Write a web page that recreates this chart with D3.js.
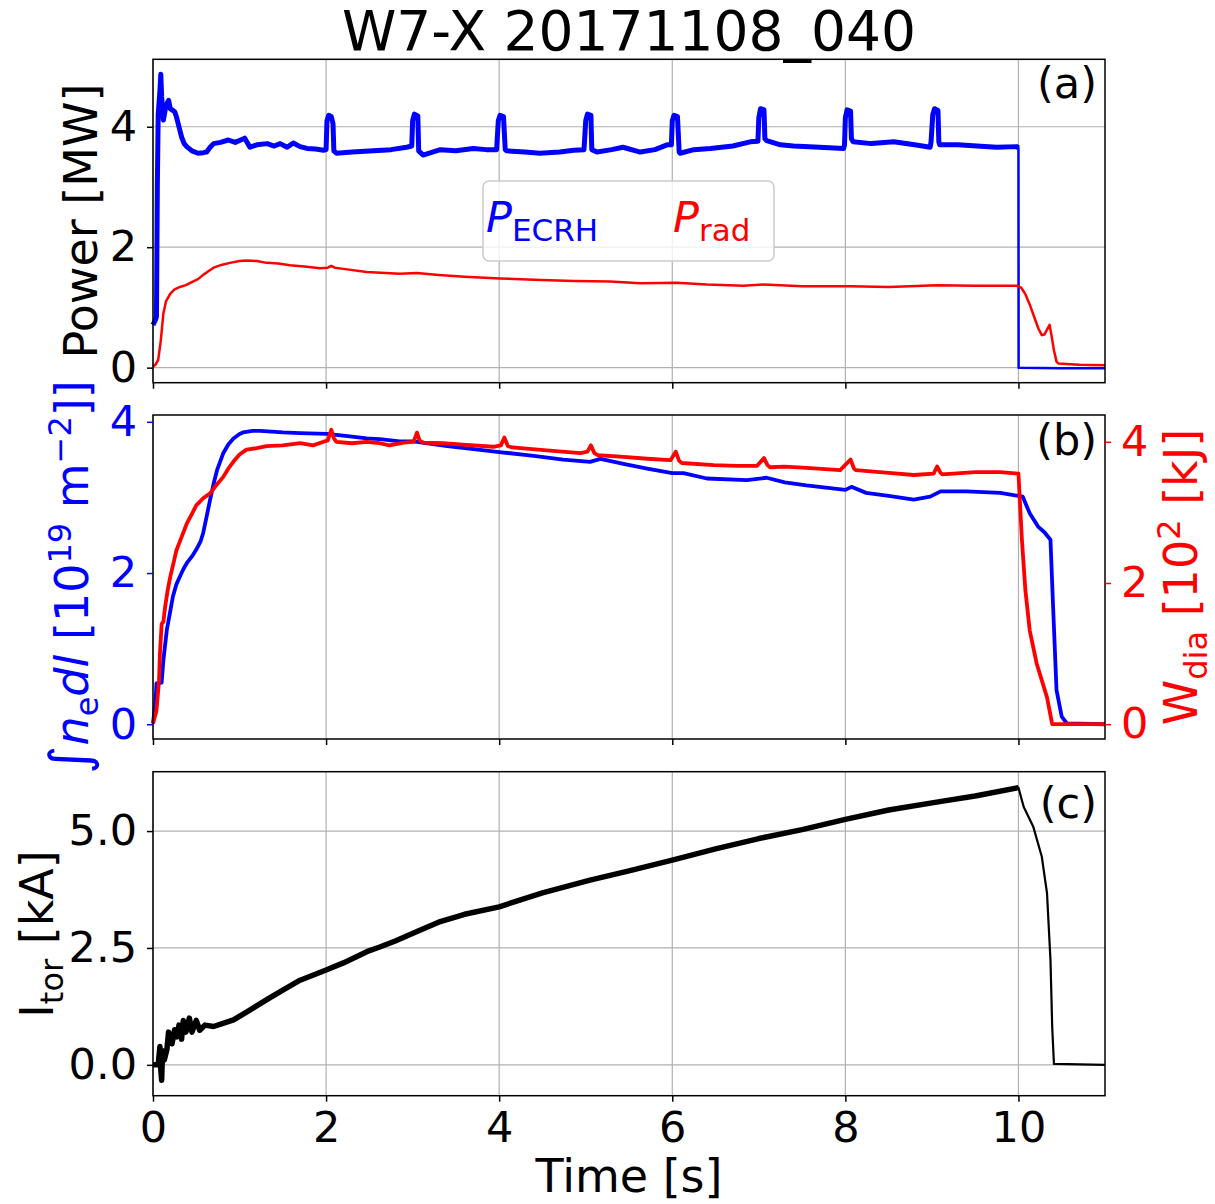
<!DOCTYPE html>
<html>
<head>
<meta charset="utf-8">
<script src="https://cdn.jsdelivr.net/npm/d3@7"></script>
<style>
  body { margin: 0; background: #fff; }
  text { font-family: "DejaVu Sans", sans-serif; }
</style>
</head>
<body>
<script>
// ---- data (time in s) ----
var ecrhT = [0.00, 0.03, 0.04, 0.05, 0.06, 0.08, 0.09, 0.10, 0.12, 0.15, 0.18, 0.20, 0.22, 0.25, 0.27, 0.30, 0.33, 0.36, 0.39, 0.45, 0.52, 0.58, 0.62, 0.66, 0.70, 0.78, 0.87, 0.95, 1.06, 1.12, 1.20, 1.32, 1.40, 1.47, 1.55, 1.62, 1.70, 1.78, 1.88, 1.97,
  2.00, 2.01, 2.03, 2.06, 2.08, 2.09, 2.12, 2.30, 2.55, 2.75, 2.93, 2.99,
  3.00, 3.02, 3.06, 3.07, 3.12, 3.32, 3.50, 3.70, 3.85, 3.97,
  3.99, 4.01, 4.05, 4.07, 4.09, 4.30, 4.47, 4.70, 4.86, 4.98,
  5.00, 5.02, 5.06, 5.07, 5.13, 5.30, 5.43, 5.63, 5.80, 5.94, 5.99,
  6.00, 6.02, 6.06, 6.08, 6.09, 6.25, 6.44, 6.70, 6.90, 6.99,
  7.00, 7.02, 7.06, 7.07, 7.09, 7.25, 7.40, 7.70, 7.98, 7.99,
  8.00, 8.02, 8.06, 8.07, 8.09, 8.30, 8.56, 8.80, 8.98, 8.99,
  9.01, 9.03, 9.07, 9.08, 9.09, 9.30, 9.52, 9.75, 9.98, 10.00,
  10.002, 10.5, 11.0];
var ecrhP = [0.71, 0.80, 0.85, 3.00, 4.20, 4.60, 4.87, 4.50, 4.11, 4.35, 4.44, 4.30, 4.28, 4.25, 4.17, 4.00, 3.83, 3.72, 3.67, 3.60, 3.56, 3.57, 3.58, 3.66, 3.72, 3.74, 3.78, 3.74, 3.81, 3.66, 3.70, 3.72, 3.68, 3.72, 3.66, 3.73, 3.67, 3.64, 3.63, 3.61,
  3.62, 4.10, 4.19, 4.17, 4.05, 3.60, 3.56, 3.58, 3.60, 3.62, 3.66, 3.68,
  4.10, 4.21, 4.18, 3.60, 3.53, 3.62, 3.60, 3.64, 3.62, 3.62,
  4.10, 4.19, 4.17, 3.62, 3.60, 3.58, 3.56, 3.58, 3.61, 3.62,
  4.10, 4.21, 4.19, 3.62, 3.58, 3.62, 3.66, 3.58, 3.62, 3.70, 3.70,
  4.10, 4.19, 4.17, 3.58, 3.56, 3.62, 3.64, 3.68, 3.75, 3.76,
  4.15, 4.30, 4.28, 3.80, 3.77, 3.70, 3.68, 3.66, 3.64, 3.70,
  4.15, 4.28, 4.26, 3.80, 3.75, 3.72, 3.75, 3.70, 3.66, 3.75,
  4.20, 4.30, 4.27, 3.75, 3.70, 3.70, 3.68, 3.66, 3.67, 3.65,
  0.00, -0.01, -0.01];

var pradT = [0.00, 0.03, 0.06, 0.09, 0.12, 0.15, 0.20, 0.25, 0.31, 0.38, 0.46, 0.52, 0.58, 0.64, 0.70, 0.80, 0.89, 1.00, 1.08, 1.20, 1.31, 1.45, 1.58, 1.75, 1.93, 2.02, 2.06, 2.10, 2.20, 2.47, 2.85, 3.05, 3.30, 3.60, 4.01, 4.40, 4.86, 5.28, 5.63, 6.05, 6.40, 6.82, 7.05, 7.50, 8.06, 8.50, 9.06, 9.50, 9.98,
  10.03, 10.08, 10.13, 10.18, 10.23, 10.27, 10.30, 10.33, 10.36, 10.38, 10.41, 10.44, 10.46, 10.70, 11.00];
var pradP = [0.02, 0.05, 0.13, 0.45, 0.90, 1.10, 1.23, 1.30, 1.34, 1.37, 1.43, 1.47, 1.54, 1.60, 1.66, 1.71, 1.74, 1.77, 1.78, 1.77, 1.74, 1.73, 1.70, 1.68, 1.65, 1.66, 1.69, 1.66, 1.64, 1.59, 1.56, 1.57, 1.54, 1.51, 1.48, 1.46, 1.44, 1.43, 1.40, 1.41, 1.38, 1.36, 1.38, 1.35, 1.35, 1.34, 1.37, 1.36, 1.36,
  1.33, 1.22, 1.05, 0.85, 0.65, 0.54, 0.55, 0.63, 0.71, 0.55, 0.29, 0.10, 0.07, 0.05, 0.04];

var neT = [0.00, 0.03, 0.04, 0.10, 0.12, 0.16, 0.20, 0.23, 0.27, 0.31, 0.35, 0.39, 0.45, 0.50, 0.55, 0.58, 0.62, 0.66, 0.70, 0.74, 0.81, 0.87, 0.93, 1.00, 1.04, 1.15, 1.24, 1.50, 1.70, 2.01, 2.25, 2.47, 2.62, 2.85, 3.01, 3.40, 3.78, 4.00, 4.40, 4.74, 5.05, 5.17, 5.45, 5.71, 6.00, 6.13, 6.40, 6.86, 7.09, 7.30, 7.55, 8.00, 8.07, 8.24, 8.50, 8.79, 8.98, 9.10, 9.40, 9.79, 10.00,
  10.05, 10.13, 10.23, 10.30, 10.37, 10.40, 10.44, 10.50, 10.56, 11.00];
var neV = [0.01, 0.30, 0.54, 0.55, 0.85, 1.25, 1.50, 1.69, 1.85, 1.95, 2.05, 2.13, 2.22, 2.31, 2.42, 2.53, 2.75, 2.97, 3.18, 3.36, 3.58, 3.70, 3.78, 3.84, 3.86, 3.88, 3.88, 3.86, 3.85, 3.84, 3.81, 3.78, 3.77, 3.74, 3.74, 3.68, 3.63, 3.60, 3.55, 3.50, 3.47, 3.51, 3.44, 3.38, 3.32, 3.32, 3.25, 3.23, 3.26, 3.20, 3.16, 3.10, 3.14, 3.06, 3.02, 2.97, 3.01, 3.08, 3.08, 3.06, 3.02,
  3.01, 2.79, 2.61, 2.54, 2.44, 1.56, 0.45, 0.10, 0.01, 0.00];

var wdiaT = [0.00, 0.04, 0.07, 0.08, 0.10, 0.12, 0.14, 0.17, 0.20, 0.24, 0.27, 0.33, 0.39, 0.45, 0.50, 0.58, 0.66, 0.74, 0.81, 0.87, 0.93, 1.00, 1.08, 1.20, 1.31, 1.50, 1.70, 1.85, 1.97,
  2.02, 2.06, 2.09, 2.12, 2.30, 2.47, 2.62, 2.73, 2.90, 3.01, 3.05, 3.08, 3.12, 3.35, 3.58, 3.93, 4.02, 4.06, 4.10, 4.15, 4.55, 4.94, 5.02, 5.06, 5.10, 5.14, 5.40, 5.71, 5.98, 6.04, 6.08, 6.11, 6.48, 6.75, 6.98, 7.06, 7.10, 7.13, 7.30, 7.55, 7.94, 8.06, 8.10, 8.12, 8.50, 8.79, 9.02, 9.06, 9.10, 9.12, 9.50, 9.79, 10.00,
  10.04, 10.08, 10.13, 10.21, 10.27, 10.33, 10.39, 11.00];
var wdiaV = [0.01, 0.19, 0.62, 1.00, 1.42, 1.45, 1.66, 1.90, 2.09, 2.30, 2.46, 2.65, 2.84, 2.98, 3.10, 3.20, 3.27, 3.40, 3.50, 3.62, 3.72, 3.82, 3.89, 3.91, 3.94, 3.95, 3.98, 3.95, 4.00,
  4.02, 4.17, 4.05, 4.00, 3.98, 4.00, 3.98, 3.95, 3.99, 4.00, 4.13, 4.02, 3.99, 3.98, 3.96, 3.93, 3.95, 4.06, 3.94, 3.92, 3.88, 3.84, 3.86, 3.95, 3.84, 3.81, 3.79, 3.76, 3.74, 3.86, 3.73, 3.70, 3.67, 3.66, 3.66, 3.77, 3.67, 3.64, 3.65, 3.63, 3.60, 3.75, 3.62, 3.60, 3.56, 3.53, 3.55, 3.65, 3.56, 3.54, 3.57, 3.57, 3.55,
  2.61, 1.90, 1.33, 0.86, 0.62, 0.38, 0.00, 0.00];

var itorT = [0.00, 0.06, 0.08, 0.09, 0.10, 0.11, 0.13, 0.16, 0.18, 0.20, 0.22, 0.25, 0.28, 0.30, 0.33, 0.35, 0.38, 0.42, 0.45, 0.50, 0.54, 0.60, 0.70, 0.80, 0.93, 1.10, 1.31, 1.50, 1.70, 2.00, 2.20, 2.47, 2.62, 2.80, 3.05, 3.30, 3.60, 4.00, 4.50, 5.05, 5.50, 6.00, 6.50, 7.00, 7.50, 8.00, 8.50, 9.09, 9.50, 10.00,
  10.06, 10.17, 10.27, 10.33, 10.37, 10.39, 10.41, 11.00];
var itorV = [0.00, 0.00, 0.39, -0.10, -0.33, 0.30, 0.10, 0.32, 0.70, 0.60, 0.45, 0.75, 0.60, 0.85, 0.55, 0.95, 0.70, 1.00, 0.70, 0.95, 0.74, 0.85, 0.82, 0.88, 0.96, 1.15, 1.39, 1.60, 1.81, 2.03, 2.18, 2.42, 2.52, 2.65, 2.85, 3.05, 3.22, 3.38, 3.68, 3.95, 4.15, 4.38, 4.62, 4.84, 5.03, 5.25, 5.45, 5.63, 5.75, 5.93,
  5.52, 5.10, 4.45, 3.67, 2.24, 0.81, 0.02, 0.00];

var timeTicks = [0, 2, 4, 6, 8, 10];
var powerTicks = [0, 2, 4];
var neTicks = [0, 2, 4];
var wdiaTicks = [0, 2, 4];
var itorTicks = [0, 2.5, 5];
var panelNames = ["(a)", "(b)", "(c)"];
var legendNames = [["P", "ECRH"], ["P", "rad"]];

// ---- layout ----
var W = 1215, H = 1204;
var left = 153, right = 1105;
var BLUE = "#0000ff", RED = "#ff0000", GRID = "#b0b0b0";
var tickFont = 43, labelFont = 46;

var svg = d3.select("body").append("svg")
    .attr("width", W)
    .attr("height", H);

var x = d3.scaleLinear().domain([0, 11]).range([left, right]);

// panel boxes
var boxes = [
    {top: 59.3, bottom: 382.7},
    {top: 415, bottom: 739},
    {top: 771.7, bottom: 1095.7}
];

var yA = d3.scaleLinear().domain([-0.25, 5.12]).range([boxes[0].bottom, boxes[0].top]);
var yB = d3.scaleLinear().domain([-0.195, 4.09]).range([boxes[1].bottom, boxes[1].top]);
var yB2 = d3.scaleLinear().domain([-0.21, 4.38]).range([boxes[1].bottom, boxes[1].top]);
var yC = d3.scaleLinear().domain([-0.66, 6.27]).range([boxes[2].bottom, boxes[2].top]);

function lineOf(y) {
    return d3.line()
        .x(function (d) { return x(d[0]); })
        .y(function (d) { return y(d[1]); });
}

function vGrid(box) {
    svg.append("g").selectAll("line")
        .data(timeTicks).enter().append("line")
        .attr("x1", function (d) { return x(d); })
        .attr("x2", function (d) { return x(d); })
        .attr("y1", box.top).attr("y2", box.bottom)
        .attr("stroke", GRID).attr("stroke-width", 1.2);
}

function hGrid(box, y, ticks) {
    svg.append("g").selectAll("line")
        .data(ticks).enter().append("line")
        .attr("x1", left).attr("x2", right)
        .attr("y1", function (d) { return y(d); })
        .attr("y2", function (d) { return y(d); })
        .attr("stroke", GRID).attr("stroke-width", 1.2);
}

function styleAxis(g, color) {
    g.select(".domain").remove();
    g.selectAll(".tick line").attr("stroke", color).attr("stroke-width", 1.5);
    g.selectAll(".tick text")
        .attr("fill", color)
        .style("font-size", tickFont + "px")
        .style("font-family", "DejaVu Sans");
}

function frame(box) {
    svg.append("rect")
        .attr("x", left).attr("y", box.top)
        .attr("width", right - left).attr("height", box.bottom - box.top)
        .attr("fill", "none").attr("stroke", "#000").attr("stroke-width", 1.5);
}

function xAxisAt(box, labels) {
    var ax = d3.axisBottom(x).tickValues(timeTicks).tickSize(6).tickPadding(10)
        .tickFormat(labels ? d3.format("d") : "");
    var g = svg.append("g").attr("transform", "translate(0," + box.bottom + ")").call(ax);
    styleAxis(g, "#000");
}

function yAxisAt(y, ticks, fmt, color) {
    var g = svg.append("g").attr("transform", "translate(" + left + ",0)")
        .call(d3.axisLeft(y).tickValues(ticks).tickSize(6).tickPadding(10).tickFormat(fmt));
    styleAxis(g, color);
}

function path(data, y, color, width) {
    svg.append("path")
        .datum(data)
        .attr("fill", "none")
        .attr("stroke", color)
        .attr("stroke-width", width)
        .attr("stroke-linejoin", "round")
        .attr("d", lineOf(y));
}

// ---- panel (a) ----
vGrid(boxes[0]);
hGrid(boxes[0], yA, powerTicks);

// legend box sits over the grid
var legend = svg.append("g");
legend.append("rect")
    .attr("x", 483).attr("y", 181).attr("width", 291).attr("height", 80)
    .attr("rx", 6)
    .attr("fill", "#fff").attr("fill-opacity", 0.8)
    .attr("stroke", "#cccccc").attr("stroke-width", 1.5);
[[486, BLUE], [673, RED]].forEach(function (p, i) {
    var t = legend.append("text").attr("x", p[0]).attr("y", 232)
        .attr("fill", p[1]).style("font-size", "43px");
    t.append("tspan").style("font-style", "italic").text(legendNames[i][0]);
    t.append("tspan").attr("dy", 9).style("font-size", "31px").text(legendNames[i][1]);
});

var ecrh = d3.zip(ecrhT, ecrhP);
path(ecrh, yA, BLUE, 2.5);
path(ecrh.filter(function (d) { return d[0] <= 10; }), yA, BLUE, 5);
path(d3.zip(pradT, pradP), yA, RED, 2.5);

frame(boxes[0]);
xAxisAt(boxes[0], false);
yAxisAt(yA, powerTicks, d3.format("d"), "#000");

// ---- panel (b) ----
vGrid(boxes[1]);
path(d3.zip(neT, neV), yB, BLUE, 3.8);
path(d3.zip(wdiaT, wdiaV), yB2, RED, 3.8);
frame(boxes[1]);
xAxisAt(boxes[1], false);
yAxisAt(yB, neTicks, d3.format("d"), BLUE);
var gr = svg.append("g").attr("transform", "translate(" + right + ",0)")
    .call(d3.axisRight(yB2).tickValues(wdiaTicks).tickSize(6).tickPadding(10).tickFormat(d3.format("d")));
styleAxis(gr, RED);

// ---- panel (c) ----
vGrid(boxes[2]);
hGrid(boxes[2], yC, itorTicks);
var itor = d3.zip(itorT, itorV);
path(itor, yC, "#000", 2.2);
path(itor.filter(function (d) { return d[0] <= 10; }), yC, "#000", 5.5);
frame(boxes[2]);
xAxisAt(boxes[2], true);
yAxisAt(yC, itorTicks, d3.format(".1f"), "#000");

// ---- panel letters ----
[[98, 0], [455, 1], [818, 2]].forEach(function (p) {
    svg.append("text").attr("x", 1097).attr("y", p[0])
        .attr("text-anchor", "end").style("font-size", "43px")
        .text(panelNames[p[1]]);
});

// ---- titles and labels ----
svg.append("text").attr("x", 629).attr("y", 50)
    .attr("text-anchor", "middle").style("font-size", "55px")
    .text("W7-X 20171108_040");

svg.append("text").attr("x", 629).attr("y", 1192)
    .attr("text-anchor", "middle").style("font-size", labelFont + "px")
    .text("Time [s]");

function yLabel(px, py, color, parts) {
    var t = svg.append("text")
        .attr("transform", "translate(" + px + "," + py + ") rotate(-90)")
        .attr("text-anchor", "middle")
        .attr("fill", color)
        .style("font-size", labelFont + "px");
    var shift = 0;
    parts.forEach(function (p) {
        var s = t.append("tspan").text(p.t);
        var target = p.sub ? 10 : (p.sup ? -17 : 0);
        if (target !== shift) { s.attr("dy", target - shift); shift = target; }
        if (p.sub || p.sup) s.style("font-size", "32px");
        if (p.it) s.style("font-style", "italic");
        if (p.big) s.style("font-size", "54px");
    });
}

yLabel(97, 221, "#000", [{t: "Power [MW]"}]);
yLabel(88, 577, BLUE, [
    {t: "\u222B", big: true}, {t: "n", it: true}, {t: "e", sub: true},
    {t: "dl", it: true}, {t: " [10"}, {t: "19", sup: true},
    {t: " m"}, {t: "\u22122", sup: true}, {t: "]]"}
]);
yLabel(1197, 577, RED, [
    {t: "W"}, {t: "dia", sub: true}, {t: " [10"}, {t: "2", sup: true}, {t: " [kJ]"}
]);
yLabel(53, 934, "#000", [
    {t: "I"}, {t: "tor", sub: true}, {t: " [kA]"}
]);
</script>
</body>
</html>
